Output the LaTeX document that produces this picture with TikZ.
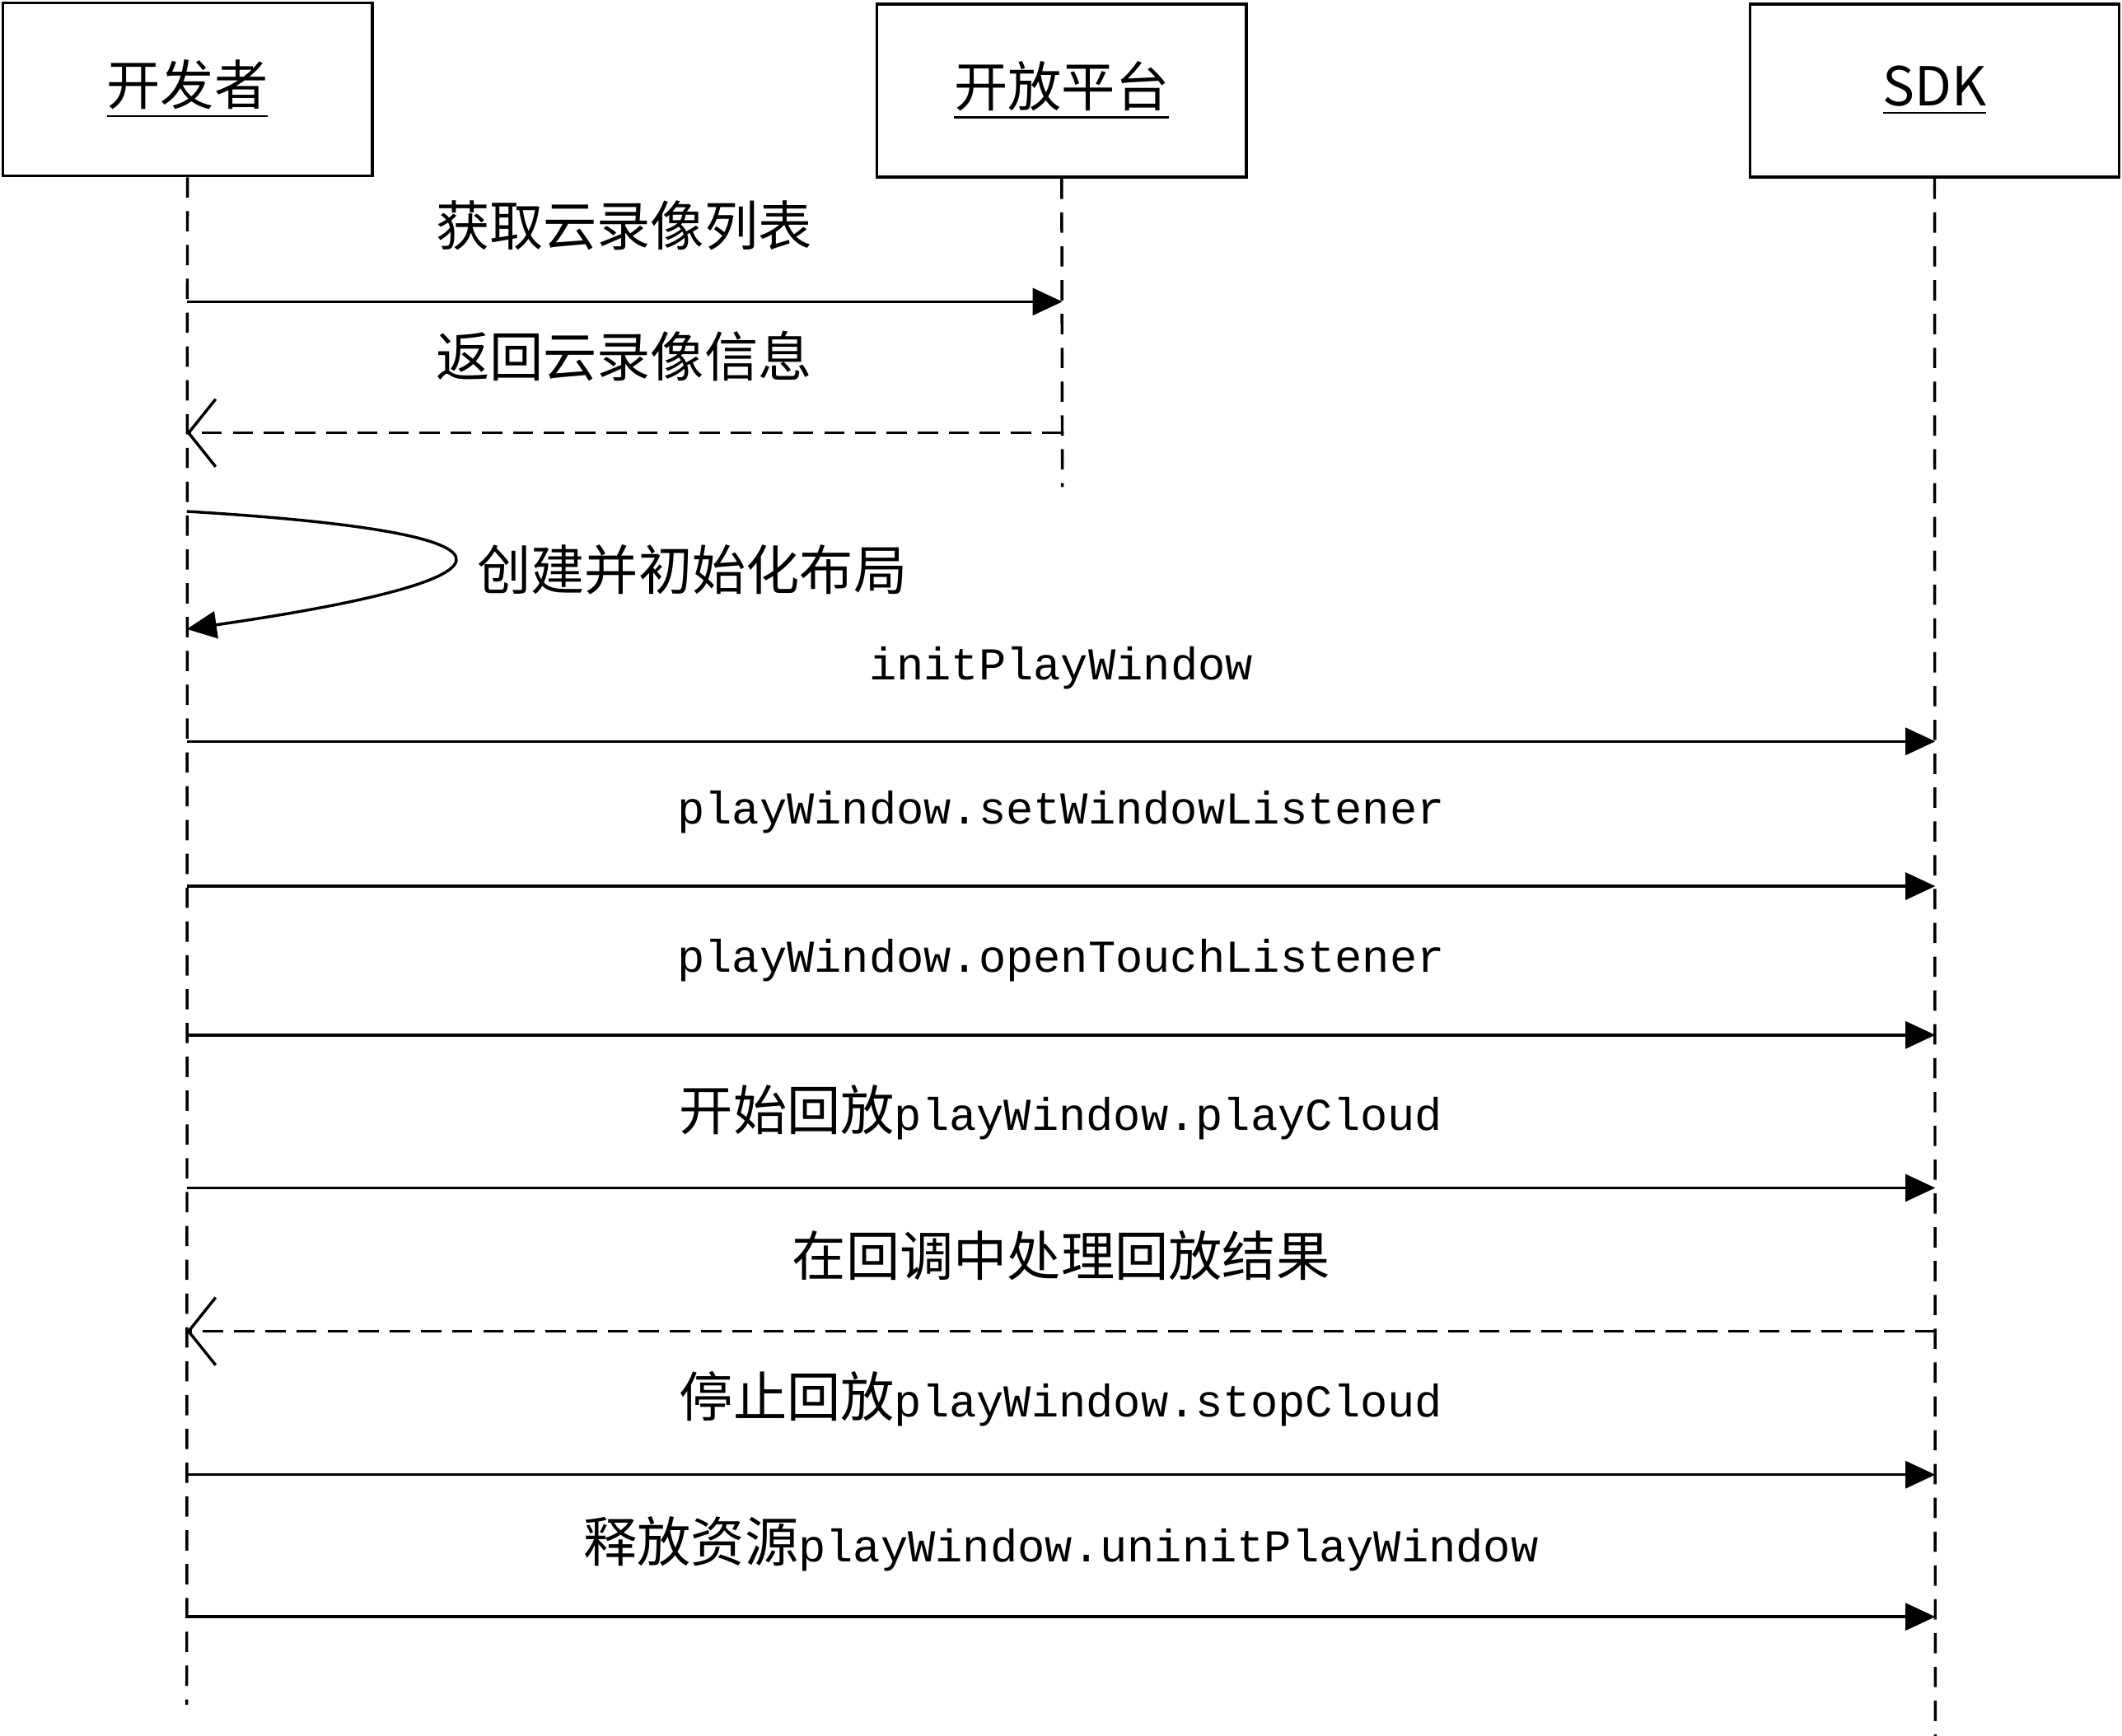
\documentclass[tikz,border=0pt]{standalone}
\usepackage{fontspec}
\setmainfont{Liberation Mono}
\newfontfamily\cjk{Noto Sans CJK SC}
\usetikzlibrary{arrows.meta}
\newcommand{\cn}[1]{{\cjk\fontsize{11.3}{13}\selectfont #1}}
\tikzset{
	actor/.style={draw,line width=0.6pt,minimum width=2.73cm,minimum height=1.28cm,inner sep=0pt},
	life/.style={line width=0.6pt,dash pattern=on 0.15cm off 0.1cm},
	call/.style={line width=0.6pt,-{Triangle[length=0.22cm,width=0.2cm]}},
	reply/.style={line width=0.6pt,dash pattern=on 0.15cm off 0.08cm,-{Straight Barb[length=0.2cm,width=0.5cm]}},
	msg/.style={font=\fontsize{9.6}{11}\selectfont,inner sep=0pt}
}
\begin{document}
\begin{tikzpicture}
	\useasboundingbox (0,0) rectangle (15.68,-12.83);
	% participants
	\node[actor] (dev) at (1.385,-0.66) {\underline{\cn{开发者}}};
	\node[actor] (plat) at (7.845,-0.67) {\underline{\cn{开放平台}}};
	\node[actor] (sdk) at (14.295,-0.67) {\underline{\cn{SDK}}};
	\coordinate (devend) at (1.38,-12.6);
	\coordinate (platend) at (7.85,-3.6);
	\coordinate (sdkend) at (14.3,-12.83);
	\draw[life] (dev.south) -- (devend);
	\draw[life] (plat.south) -- (platend);
	\draw[life] (sdk.south) -- (sdkend);
	% messages with the platform
	\coordinate (d1) at (1.38,-2.23); \coordinate (p1) at (7.85,-2.23);
	\coordinate (d2) at (1.38,-3.2); \coordinate (p2) at (7.85,-3.2);
	\node[msg] (m1) at (4.61,-1.67) {\cn{获取云录像列表}};
	\node[msg] (m2) at (4.61,-2.63) {\cn{返回云录像信息}};
	\draw[call] (d1) -- (p1);
	\draw[reply] (p2) -- (d2);
	% self call
	\coordinate (s1) at (1.38,-3.78); \coordinate (s2) at (1.38,-4.65);
	\draw[call] (s1) .. controls (4.2,-3.95) and (3.8,-4.3) .. (s2);
	\node[msg,anchor=west] (m3) at (3.52,-4.21) {\cn{创建并初始化布局}};
	% messages with the SDK
	\foreach \y/\t/\s [count=\i] in {
		5.48/initPlayWindow/4.94,
		6.55/playWindow.setWindowListener/6.0,
		7.65/playWindow.openTouchListener/7.1,
		8.78/\cn{开始回放}playWindow.playCloud/8.22,
		10.9/\cn{停止回放}playWindow.stopCloud/10.34,
		11.95/\cn{释放资源}playWindow.uninitPlayWindow/11.41}{
		\coordinate (a\i) at (1.38,-\y);
		\coordinate (b\i) at (14.3,-\y);
		\node[msg] (t\i) at (7.84,-\s) {\t};
		\draw[call] (a\i) -- (b\i);
	}
	\coordinate (r1) at (14.3,-9.84); \coordinate (r2) at (1.38,-9.84);
	\node[msg] (m4) at (7.84,-9.28) {\cn{在回调中处理回放结果}};
	\draw[reply] (r1) -- (r2);
\end{tikzpicture}
\end{document}
